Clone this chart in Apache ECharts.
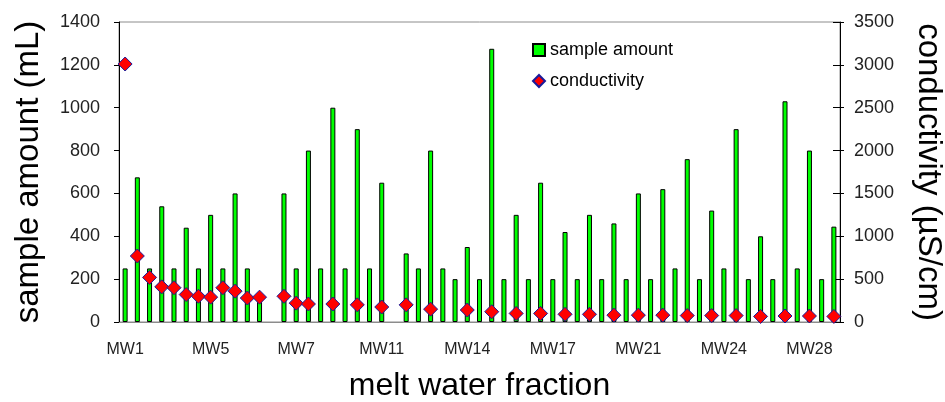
<!DOCTYPE html>
<html>
<head>
<meta charset="utf-8">
<script src="https://cdn.jsdelivr.net/npm/echarts@6/dist/echarts.min.js"></script>
<style>
  html, body { margin: 0; padding: 0; background: #fff; }
  #chart { width: 945px; height: 402px; }
</style>
</head>
<body>
<div id="chart"></div>
<script>
// categories (only every 7th fraction is labelled on the axis)
const fractions = [
  'MW1', '', '', '', '', '', '',
  'MW5', '', '', '', '', '', '',
  'MW7', '', '', '', '', '', '',
  'MW11', '', '', '', '', '', '',
  'MW14', '', '', '', '', '', '',
  'MW17', '', '', '', '', '', '',
  'MW21', '', '', '', '', '', '',
  'MW24', '', '', '', '', '', '',
  'MW28', '', ''
]

// sample amount (mL), null where there is no bar
const sampleAmount = [
  250, 675, 250, 540, 250, 440, 250, 500, 250, 600,
  250, 120, null, 600, 250, 800, 250, 1000, 250, 900,
  250, 650, null, 320, 250, 800, 250, 200, 350, 200,
  1275, 200, 500, 200, 650, 200, 420, 200, 500, 200,
  460, 200, 600, 200, 620, 250, 760, 200, 520, 250,
  900, 200, 400, 200, 1030, 250, 800, 200, 445
]

// conductivity (µS/cm), '-' where not measured
const conductivity = [
  3010, 770, 520, 410, 400, 320, 300, 290, 400, 360,
  280, 290, '-', 300, 220, 210, '-', 210, '-', 200,
  '-', 175, '-', 200, '-', 150, '-', '-', 140, '-',
  120, '-', 100, '-', 100, '-', 90, '-', 90, '-',
  80, '-', 80, '-', 80, '-', 75, '-', 75, '-',
  75, '-', 65, '-', 70, '-', 70, '-', 65
]

const leftTicks = { min: 0, max: 1400, interval: 200 }
const rightTicks = { min: 0, max: 3500, interval: 500 }

const font = 'Liberation Sans'
const chart = echarts.init(document.getElementById('chart'))

// plain numbers, no thousands separator
const plain = (v) => String(v)

const option = {
  animation: false,
  textStyle: { fontFamily: font },
  grid: {
    left: 119,
    right: 105,
    top: 22,
    bottom: 80,
    outerBoundsMode: 'none',
    show: true,
    borderColor: '#8c8c8c',
    borderWidth: 1
  },
  legend: {
    orient: 'vertical',
    left: 527,
    top: 36,
    itemWidth: 12,
    itemHeight: 12,
    itemGap: 13,
    textStyle: { fontFamily: font, fontSize: 18, color: '#000' },
    data: [
      { name: 'sample amount', icon: 'rect' },
      { name: 'conductivity', icon: 'diamond' }
    ]
  },
  xAxis: [
    {
      type: 'category',
      data: fractions,
      boundaryGap: true,
      name: 'melt water fraction',
      nameLocation: 'middle',
      nameGap: 48,
      nameTextStyle: { fontFamily: font, fontSize: 32, color: '#000' },
      axisLine: { lineStyle: { color: '#8c8c8c', width: 1 } },
      axisTick: { interval: 6, length: 4, lineStyle: { color: '#000' } },
      axisLabel: { interval: 6, fontSize: 16, color: '#222', margin: 20 },
      splitLine: { show: false }
    },
    {
      // inner half of the cross ticks
      type: 'category',
      data: fractions,
      position: 'bottom',
      boundaryGap: true,
      axisLine: { show: false },
      axisTick: { interval: 6, inside: true, length: 5, lineStyle: { color: '#000' } },
      axisLabel: { show: false },
      splitLine: { show: false }
    }
  ],
  yAxis: [
    {
      type: 'value',
      position: 'left',
      ...leftTicks,
      name: 'sample amount (mL)',
      nameLocation: 'middle',
      nameGap: 74,
      nameRotate: 90,
      nameTextStyle: { fontFamily: font, fontSize: 33, color: '#000' },
      axisLine: { show: true, lineStyle: { color: '#000', width: 1 } },
      axisTick: { show: true, length: 5, lineStyle: { color: '#000' } },
      axisLabel: { fontSize: 18, color: '#222', margin: 19, formatter: plain },
      splitLine: { show: false }
    },
    {
      type: 'value',
      position: 'right',
      ...rightTicks,
      name: 'conductivity (µS/cm)',
      nameLocation: 'middle',
      nameGap: 72,
      nameRotate: -90,
      nameTextStyle: { fontFamily: font, fontSize: 33, color: '#000' },
      axisLine: { show: true, lineStyle: { color: '#000', width: 1 } },
      axisTick: { show: true, length: 4, lineStyle: { color: '#000' } },
      axisLabel: { fontSize: 18, color: '#222', margin: 14, formatter: plain },
      splitLine: { show: false }
    },
    {
      // inner half of the right cross ticks
      type: 'value',
      position: 'right',
      ...rightTicks,
      axisLine: { show: false },
      axisTick: { show: true, inside: true, length: 7, lineStyle: { color: '#000' } },
      axisLabel: { show: false },
      splitLine: { show: false }
    }
  ],
  series: [
    {
      name: 'sample amount',
      type: 'bar',
      xAxisIndex: 0,
      yAxisIndex: 0,
      barWidth: 5,
      data: sampleAmount,
      itemStyle: { color: '#00ff00', borderColor: '#000', borderWidth: 1 },
      z: 2
    },
    {
      name: 'conductivity',
      type: 'scatter',
      xAxisIndex: 0,
      yAxisIndex: 1,
      symbol: 'diamond',
      symbolSize: 14,
      data: conductivity,
      itemStyle: { color: '#ff0000', borderColor: '#1a1a9a', borderWidth: 1, opacity: 1 },
      z: 3
    }
  ]
}

chart.setOption(option)
</script>
</body>
</html>
